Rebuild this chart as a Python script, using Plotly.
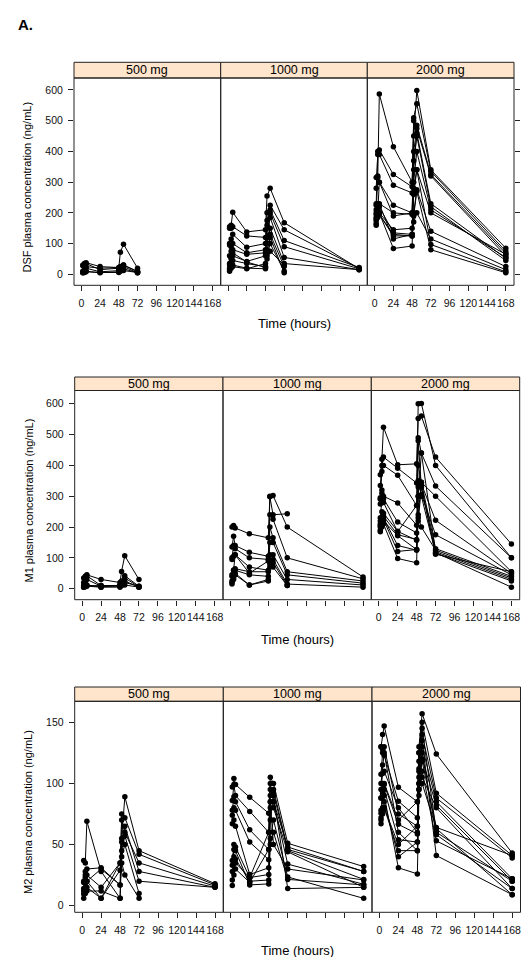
import plotly.graph_objects as go

# ---------------- data ----------------
TIMES = [2, 4, 6, 24, 48, 50, 54, 72, 168]
DOSES = ["500 mg", "1000 mg", "2000 mg"]
X_TICKS = [0, 24, 48, 72, 96, 120, 144, 168]
Y_TICKS_DSF = [0, 100, 200, 300, 400, 500, 600]
Y_TICKS_M1 = [0, 100, 200, 300, 400, 500, 600]
Y_TICKS_M2 = [0, 50, 100, 150]
Y_TITLES = ["DSF plasma concentration (ng/mL)",
            "M1 plasma concentration (ng/mL)",
            "M2 plasma concentration (ng/mL)"]

# DSF, one list per subject (values at TIMES)
dsf_500 = [
    [30, 35, 38, 25, 22, 72, 98, 20, None],
    [10, 25, 35, 15, 20, 25, 30, 10, None],
    [8, 15, 20, 8, 12, 20, 25, 5, None],
    [5, 8, 10, 5, 8, 15, 18, 5, None],
    [28, 26, 25, 20, 20, 22, 30, 8, None],
    [5, 6, 8, 6, 6, 10, 12, 6, None],
]
dsf_1000 = [
    [150, 160, 202, 138, 145, 255, 280, 168, 18],
    [155, 150, 155, 125, 120, 200, 225, 145, 20],
    [100, 115, 130, 88, 100, 175, 210, 110, 22],
    [95, 90, 100, 70, 80, 160, 200, 90, 18],
    [60, 75, 80, 65, 70, 120, 185, 55, 15],
    [30, 50, 60, 42, 60, 100, 150, 35, 15],
    [20, 35, 45, 35, 25, 70, 130, 25, None],
    [15, 25, 30, 20, 18, 60, 100, 10, None],
    [35, 55, 70, 40, 22, 80, 120, 5, None],
    [10, 20, 25, 18, 35, 50, 75, 30, None],
]
dsf_2000 = [
    [200, 315, 587, 415, 300, 450, 598, 340, 85],
    [230, 400, 405, 325, 285, 510, 555, 335, 75],
    [280, 390, 390, 290, 265, 500, 485, 325, 68],
    [315, 320, 300, 225, 200, 400, 475, 320, 60],
    [185, 225, 230, 200, 195, 340, 460, 230, 52],
    [210, 200, 300, 190, 200, 370, 450, 220, 45],
    [165, 200, 200, 145, 150, 300, 400, 210, 55],
    [175, 215, 220, 135, 130, 260, 340, 200, 65],
    [160, 190, 195, 125, 125, 200, 275, 140, 25],
    [195, 230, 228, 115, 130, 170, 200, 115, 15],
    [180, 185, 200, 84, 92, 280, 340, 97, 8],
    [225, 215, 195, 130, 125, 190, 270, 80, 5],
]

# M1
m1_500 = [
    [20, 35, 45, 30, 20, 56, 107, 30, None],
    [35, 40, 42, 10, 10, 15, 42, 8, None],
    [10, 20, 30, 8, 8, 12, 25, 5, None],
    [5, 10, 12, 5, 12, 25, 35, 6, None],
    [8, 10, 10, 10, 10, 20, 20, 8, None],
    [5, 6, 8, 5, 5, 10, 12, 5, None],
]
m1_1000 = [
    [200, 205, 197, 178, 165, 300, 302, 200, 38],
    [135, 170, 140, 118, 105, 298, 240, 243, None],
    [100, 140, 130, 100, 95, 240, 225, 100, 32],
    [95, 105, 110, 70, 60, 200, 165, 55, 25],
    [40, 60, 65, 55, 55, 150, 150, 45, 18],
    [25, 45, 60, 45, 40, 110, 110, 30, 12],
    [20, 35, 50, 12, 30, 90, 95, 15, 5],
    [15, 30, 45, 12, 25, 80, 85, 10, None],
    [45, 60, 110, 50, 90, 70, 70, 10, None],
]
m1_2000 = [
    [370, 420, 524, 402, 405, 552, 560, 427, 145],
    [335, 400, 427, 391, 343, 600, 601, 400, 100],
    [290, 380, 400, 368, 270, 490, 440, 333, 100],
    [295, 320, 300, 278, 206, 400, 345, 300, 55],
    [230, 290, 292, 216, 181, 330, 340, 222, 50],
    [220, 250, 245, 186, 157, 300, 305, 175, 45],
    [210, 230, 220, 172, 127, 240, 345, 130, 40],
    [190, 220, 225, 121, 127, 230, 200, 125, 35],
    [185, 200, 210, 98, 84, 300, 440, 120, 30],
    [200, 215, 230, 140, 125, 350, 300, 115, 25],
    [275, 310, 280, 185, 270, 480, 330, 117, 5],
    [205, 215, 235, 175, 160, 220, 330, 112, 55],
]

# M2
m2_500 = [
    [37, 35, 69, 28, 6, 55, 89, 45, 18],
    [19, 28, 30, 31, 17, 75, 72, 42, 17],
    [14, 23, 25, 15, 35, 70, 60, 35, 16],
    [9.5, 12, 15, 6, 29, 52, 65, 28, 15],
    [6, 10, 12, 12, 6, 45, 57, 20, 15],
    [20, 25, 20, 6, 35, 40, 50, 10, None],
    [12, 18, 20, 30, 17, 35, 25, 6, None],
]
m2_1000 = [
    [97, 104, 99, 88.6, 75.6, 105, 100, 51, 32],
    [86, 99, 90, 77, 60, 95, 95, 46, 28],
    [78, 89, 85, 62, 46, 90, 92, 45, 21.5],
    [74, 80, 78, 52, 37.6, 85, 85, 34, 17.5],
    [67, 70, 65, 25.5, 31, 80, 80, 44, 15],
    [37, 50, 48, 23, 25.5, 55, 70, 23.5, 6],
    [33, 46, 45, 17, 17.8, 50, 60, 21.5, 17],
    [28, 40, 38, 20, 21, 70, 90, 14, 15],
    [21, 35, 30, 19, 46, 85, 50, 30, 21],
    [16.6, 25, 35, 23, 60, 100, 85, 48, 28],
]
m2_2000 = [
    [130, 140, 147, 96.8, 85, 130, 157, 124, 43],
    [130, 128, 123, 85.4, 72, 125, 150, 92, 41],
    [107.5, 125, 130, 75, 65, 118, 140, 88, 39],
    [88, 100, 99, 66.5, 58.6, 110, 130, 85, 22],
    [75.6, 92, 95, 54, 52, 100, 120, 82, 20],
    [70, 80, 80, 45, 45, 95, 105, 80, 14],
    [67, 78, 90, 31, 26, 90, 100, 63, 9],
    [88, 95, 100, 70, 85, 125, 145, 60, 20],
    [100, 115, 125, 60, 45, 105, 125, 58, 14],
    [78, 90, 85, 40, 52, 95, 110, 53, 22],
    [72, 75, 80, 50, 65, 112, 135, 41, 9],
    [95, 108, 110, 80, 60, 100, 118, 64, 41],
]

PANELS = [[dsf_500, dsf_1000, dsf_2000],
          [m1_500, m1_1000, m1_2000],
          [m2_500, m2_1000, m2_2000]]
Y_TICKS = [Y_TICKS_DSF, Y_TICKS_M1, Y_TICKS_M2]

# ---------------- layout geometry (pixels) ----------------
W, H = 529, 957
ROW_X = [[66, 212.7, 359.3, 506],
         [66.7, 215, 363.3, 511.7],
         [66.7, 215.3, 364, 512.5]]
ROW_PLOT_Y = [(70, 277.3), (382.5, 591.7), (693.3, 904.3)]   # top, bottom
ROW_STRIP_TOP = [54.3, 369, 679]
ROW_YRANGE = [[-35.8, 639], [-35.7, 643], [-5.4, 167.1]]
XRANGE = [-9.4, 178.5]
XTITLE_Y = [315, 631, 942.3]
YTITLE_POS = [(18.5, 179), (20, 492.5), (20, 804)]

FONT = "Liberation Sans, Arial, Helvetica, sans-serif"
LINEC = "#222222"


def px(x):
    return x / W


def py(y):
    return 1 - y / H


fig = go.Figure()
layout = dict(width=W, height=H, margin=dict(l=0, r=0, t=0, b=0),
              paper_bgcolor="white", plot_bgcolor="white", showlegend=False,
              font=dict(family=FONT, color="black"))
shapes, annotations = [], []

k = 0
for r in range(3):
    top, bot = ROW_PLOT_Y[r]
    for c in range(3):
        k += 1
        xa = "x" if k == 1 else f"x{k}"
        ya = "y" if k == 1 else f"y{k}"
        x0, x1 = ROW_X[r][c], ROW_X[r][c + 1]
        for subj in PANELS[r][c]:
            fig.add_trace(go.Scatter(
                x=TIMES, y=subj, mode="lines+markers", xaxis=xa, yaxis=ya,
                line=dict(color="black", width=1),
                marker=dict(color="black", size=5.5),
                hoverinfo="skip", connectgaps=False))
        layout[f"xaxis{k}"] = dict(
            domain=[px(x0), px(x1)], range=XRANGE, anchor=ya,
            tickvals=X_TICKS, ticktext=[str(v) for v in X_TICKS],
            ticks="outside", ticklen=5, tickcolor=LINEC, tickwidth=1,
            tickangle=0, ticklabelstandoff=3,
            showticklabels=(c != 1), showgrid=False, zeroline=False,
            showline=False, tickfont=dict(size=10.5, family=FONT, color="#111"))
        yax = dict(
            domain=[py(bot), py(top)], range=ROW_YRANGE[r], anchor=xa,
            tickvals=Y_TICKS[r], showgrid=False, zeroline=False, showline=False,
            tickfont=dict(size=10.5, family=FONT, color="#111"))
        if c == 0:
            yax.update(side="left", ticks="outside", ticklen=5, tickcolor=LINEC,
                       showticklabels=True, ticklabelstandoff=3)
        elif c == 1:
            yax.update(ticks="", showticklabels=False)
        else:
            yax.update(side="right", ticks="outside", ticklen=5, tickcolor=LINEC,
                       showticklabels=False)
        layout[f"yaxis{k}"] = yax

        # strip
        st = ROW_STRIP_TOP[r]
        shapes.append(dict(type="rect", xref="paper", yref="paper",
                           x0=px(x0), x1=px(x1), y0=py(top), y1=py(st),
                           fillcolor="#FFE5CC", line=dict(color=LINEC, width=1),
                           layer="below"))
        annotations.append(dict(text=DOSES[c], xref="paper", yref="paper",
                                x=px((x0 + x1) / 2), y=py((st + top) / 2),
                                showarrow=False, xanchor="center", yanchor="middle",
                                font=dict(size=12.5, family=FONT, color="black")))
        # panel frame
        shapes.append(dict(type="rect", xref="paper", yref="paper",
                           x0=px(x0), x1=px(x1), y0=py(bot), y1=py(top),
                           line=dict(color=LINEC, width=1), fillcolor="rgba(0,0,0,0)"))

    # x title
    annotations.append(dict(text="Time (hours)", xref="paper", yref="paper",
                            x=px((ROW_X[r][0] + ROW_X[r][3]) / 2), y=py(XTITLE_Y[r]),
                            showarrow=False, xanchor="center", yanchor="middle",
                            font=dict(size=13, family=FONT, color="black")))
    # y title
    yx, yy = YTITLE_POS[r]
    annotations.append(dict(text=Y_TITLES[r], xref="paper", yref="paper",
                            x=px(yx), y=py(yy), textangle=-90,
                            showarrow=False, xanchor="center", yanchor="middle",
                            font=dict(size=11, family=FONT, color="black")))

annotations.append(dict(text="<b>A.</b>", xref="paper", yref="paper",
                        x=px(8), y=py(16), showarrow=False,
                        xanchor="left", yanchor="middle",
                        font=dict(size=15, family=FONT, color="black")))

layout["shapes"] = shapes
layout["annotations"] = annotations
fig.update_layout(**layout)
fig.write_html("out.html")
